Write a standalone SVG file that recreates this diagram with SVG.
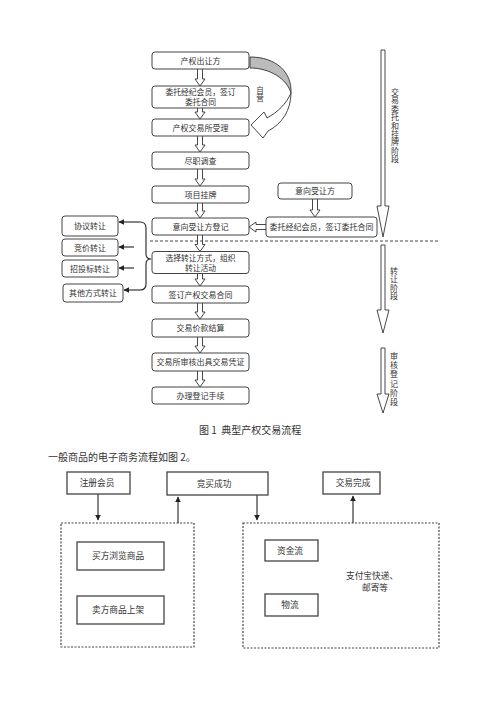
<svg xmlns="http://www.w3.org/2000/svg" width="500" height="707" viewBox="0 0 500 707">
<defs>
<style>
text{font-family:"Noto Sans CJK SC","Liberation Sans",sans-serif;fill:#333;}
.t{font-size:8px;text-anchor:middle;}
.t2{font-size:7.8px;text-anchor:middle;}
.b{font-size:8.7px;text-anchor:middle;}
.v{font-size:8px;writing-mode:vertical-rl;}
.box{fill:#fff;stroke:#444;stroke-width:1;}
.sq{fill:#fff;stroke:#444;stroke-width:1.3;}
.dash{fill:none;stroke:#444;stroke-width:1.2;stroke-dasharray:2,1.5;}
.ha{fill:#fff;stroke:#333;stroke-width:0.9;stroke-linejoin:miter;}
.ln{fill:none;stroke:#222;stroke-width:1.1;}
</style>
<marker id="ah" viewBox="0 0 10 10" refX="9" refY="5" markerWidth="6" markerHeight="6" markerUnits="userSpaceOnUse" orient="auto">
<path d="M0,0 L10,5 L0,10 Z" fill="#222"/>
</marker>
</defs>

<g id="connectors">
<polyline class="ha" points="197.5,69 197.5,79 195,79 200,86 205,79 202.5,79 202.5,69"/>
<polyline class="ha" points="197.5,108 197.5,112 195,112 200,119 205,112 202.5,112 202.5,108"/>
<polyline class="ha" points="197.5,136 197.5,145 195,145 200,152 205,145 202.5,145 202.5,136"/>
<polyline class="ha" points="197.5,169 197.5,179 195,179 200,186 205,179 202.5,179 202.5,169"/>
<polyline class="ha" points="197.5,203 197.5,211 195,211 200,218 205,211 202.5,211 202.5,203"/>
<polyline class="ha" points="197.5,235 197.5,244.5 195,244.5 200,251.5 205,244.5 202.5,244.5 202.5,235"/>
<polyline class="ha" points="197.5,273.5 197.5,279 195,279 200,286 205,279 202.5,279 202.5,273.5"/>
<polyline class="ha" points="197.5,303 197.5,312 195,312 200,319 205,312 202.5,312 202.5,303"/>
<polyline class="ha" points="197.5,337 197.5,346 195,346 200,353 205,346 202.5,346 202.5,337"/>
<polyline class="ha" points="197.5,371 197.5,380 195,380 200,387 205,380 202.5,380 202.5,371"/>
<polyline class="ha" points="312.5,199 312.5,210 310,210 315,217 320,210 317.5,210 317.5,199"/>
<polyline class="ha" points="266,224.5 256,224.5 256,222 249,227 256,232 256,229.5 266,229.5"/>

<path d="M250,57 C276,57 292,72 291,93 C287,79 270,68 250,68 Z" fill="#bbb" stroke="#333" stroke-width="0.9" stroke-linejoin="round"/>
<path d="M291,93 C291,110 282,124 268,131 L263,138 L251,125 L264,112 L267,118 C278,112 286,104 291,93 Z" fill="#fff" stroke="#333" stroke-width="0.9"/>

<path class="ln" d="M140,222 Q146,222 146,228 L146,254 Q146,259 151,259 Q146,259 146,264 L146,284 Q146,290 140,290"/>
<line class="ln" x1="140" y1="222" x2="119" y2="222" marker-end="url(#ah)"/>
<line class="ln" x1="134" y1="247" x2="119" y2="247" marker-end="url(#ah)"/>
<line class="ln" x1="134" y1="268" x2="119" y2="268" marker-end="url(#ah)"/>
<line class="ln" x1="140" y1="290" x2="124" y2="290" marker-end="url(#ah)"/>

<line x1="150" y1="241" x2="440" y2="241" stroke="#333" stroke-width="0.9" stroke-dasharray="3,2"/>

<polygon class="ha" points="381,50 385,50 385,206 389,206 383,237 377,206 381,206"/>
<polygon class="ha" points="381,245 385,245 385,310 389,310 383,333 377,310 381,310"/>
<polygon class="ha" points="381,348 385,348 385,394 389,394 383,413 377,394 381,394"/>

<line class="ln" x1="98" y1="494" x2="98" y2="520" marker-end="url(#ah)"/>
<line class="ln" x1="178" y1="523" x2="178" y2="497" marker-end="url(#ah)"/>
<line class="ln" x1="257" y1="495" x2="257" y2="520" marker-end="url(#ah)"/>
<line class="ln" x1="353" y1="523" x2="353" y2="496" marker-end="url(#ah)"/>
</g>

<text class="v" x="260" y="86" style="font-size:7.5px;letter-spacing:1px">自营</text>
<text class="v" x="395" y="88" style="letter-spacing:0.4px">交易委托和挂牌阶段</text>
<text class="v" x="394" y="267" style="letter-spacing:0.3px">转让阶段</text>
<text class="v" x="394" y="352" style="letter-spacing:1.2px">审核登记阶段</text>

<g id="n1"><rect class="box" x="152" y="52" width="97" height="17" rx="3"/><text class="t" x="200.5" y="63.5">产权出让方</text></g>
<g id="n2"><rect class="box" x="152" y="86" width="97" height="22" rx="3"/><text class="t2"><tspan x="200.5" y="95">委托经纪会员，签订</tspan><tspan x="200.5" y="105">委托合同</tspan></text></g>
<g id="n3"><rect class="box" x="152" y="119" width="97" height="17" rx="3"/><text class="t" x="200.5" y="130.5">产权交易所受理</text></g>
<g id="n4"><rect class="box" x="152" y="152" width="97" height="17" rx="3"/><text class="t" x="200.5" y="163.5">尽职调查</text></g>
<g id="n5"><rect class="box" x="152" y="186" width="97" height="17" rx="3"/><text class="t" x="200.5" y="197.5">项目挂牌</text></g>
<g id="n6"><rect class="box" x="152" y="218" width="97" height="17" rx="3"/><text class="t" x="200.5" y="229.5">意向受让方登记</text></g>
<g id="n7"><rect class="box" x="152" y="251.5" width="97" height="22" rx="3"/><text class="t2"><tspan x="200.5" y="260.5">选择转让方式，组织</tspan><tspan x="200.5" y="270.5">转让活动</tspan></text></g>
<g id="n8"><rect class="box" x="152" y="286" width="97" height="17" rx="3"/><text class="t" x="200.5" y="297.5">签订产权交易合同</text></g>
<g id="n9"><rect class="box" x="152" y="319" width="97" height="18" rx="3"/><text class="t" x="200.5" y="331">交易价款结算</text></g>
<g id="n10"><rect class="box" x="152" y="353" width="97" height="18" rx="3"/><text class="t" x="200.5" y="365">交易所审核出具交易凭证</text></g>
<g id="n11"><rect class="box" x="152" y="387" width="97" height="17" rx="3"/><text class="t" x="200.5" y="398.5">办理登记手续</text></g>

<g id="r1"><rect class="box" x="278" y="183" width="74" height="16" rx="3"/><text class="t" x="315" y="194">意向受让方</text></g>
<g id="r2"><rect class="box" x="266" y="217" width="111" height="20" rx="3"/><text class="t" x="321.5" y="230">委托经纪会员，签订委托合同</text></g>

<g id="l1"><rect class="box" x="62" y="216" width="56" height="20" rx="3"/><text class="t" x="90" y="229">协议转让</text></g>
<g id="l2"><rect class="box" x="62" y="239" width="56" height="17" rx="3"/><text class="t" x="90" y="250.5">竞价转让</text></g>
<g id="l3"><rect class="box" x="62" y="260" width="56" height="17" rx="3"/><text class="t" x="90" y="271.5">招投标转让</text></g>
<g id="l4"><rect class="box" x="63" y="284" width="60" height="18" rx="3"/><text class="t" x="93" y="296">其他方式转让</text></g>

<text x="199" y="434" style="font-size:10px;white-space:pre">图 1  典型产权交易流程</text>
<text x="48" y="461" style="font-size:10px">一般商品的电子商务流程如图 2。</text>

<g id="m1"><rect class="sq" x="67" y="472" width="63" height="22"/><text class="b" x="97" y="486">注册会员</text></g>
<g id="m2"><rect class="sq" x="167" y="472" width="101" height="23"/><text class="b" x="214" y="486.5">竞买成功</text></g>
<g id="m3"><rect class="sq" x="323" y="472" width="57" height="22"/><text class="b" x="353" y="486">交易完成</text></g>
<g id="g1"><rect class="dash" x="61" y="523" width="133" height="124"/></g>
<g id="g2"><rect class="dash" x="243" y="523" width="196" height="125"/></g>
<g id="m4"><rect class="sq" x="77" y="542" width="87" height="28"/><text class="b" x="118" y="559">买方浏览商品</text></g>
<g id="m5"><rect class="sq" x="77" y="596" width="87" height="28"/><text class="b" x="118" y="613">卖方商品上架</text></g>
<g id="m6"><rect class="sq" x="265" y="540" width="53" height="21"/><text class="b" x="290" y="554">资金流</text></g>
<g id="m7"><rect class="sq" x="265" y="594" width="53" height="22"/><text class="b" x="290" y="608">物流</text></g>
<g id="m8"><text class="b"><tspan x="372" y="579">支付宝快递、</tspan><tspan x="375" y="590.5">邮寄等</tspan></text></g>
</svg>
